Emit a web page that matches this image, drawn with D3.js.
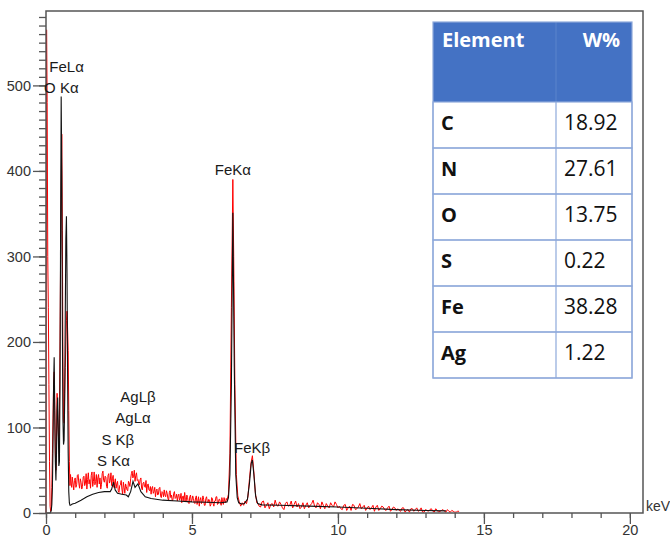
<!DOCTYPE html>
<html><head><meta charset="utf-8">
<script src="https://cdn.jsdelivr.net/npm/d3@7"></script>
<style>
html,body{margin:0;padding:0;background:#fff;}
svg{display:block;}
</style></head><body>
<svg id="chart" width="670" height="538"></svg>
<script>
// ---------------- DATA ----------------
// Red (measured) spectrum, 0 - 0.90 keV, 0.02 keV step
const redLowStart = 0, redLowStep = 0.02;
const redLowCounts = [0,565,480,300,240,150,60,8,2,5,30,70,110,150,165,120,70,50,90,140,115,95,80,110,200,300,380,443,330,180,110,105,140,170,200,225,236,215,190,120,60,32,45,35,30,42];
// Red spectrum, 0.95 - 6.20 keV, 0.025 keV step
const redMidStart = 0.95, redMidStep = 0.025;
const redMidCounts = [27,38,41,30,33,44,45,35,29,40,36,28,31,42,
  43,32,35,46,28,39,47,34,39,29,44,48,31,37,48,33,37,45,30,41,45,34,41,28,33,46,49,38,36,43,42,31,29,44,46,35,38,47,32,40,
  44,30,35,40,29,34,37,26,24,32,33,38,28,22,36,30,23,34,31,27,26,37,35,31,
  40,46,49,41,43,50,37,44,47,38,39,35,
  33,39,41,29,27,35,36,31,30,38,24,33,34,27,26,31,22,29,
  31,23,25,30,19,26,28,21,22,29,30,20,18,25,24,19,
  27,21,19,26,23,17,15,24,26,18,21,14,16,23,25,17,18,22,14,20,
  22,15,17,23,12,19,20,14,24,16,13,21,18,12,11,19,21,13,15,20,
  17,12,11,18,20,10,14,19,8,15,18,11,13,20,16,9,9,17,19,13,12,16,15,8,10,18,17,11,8,14,14,19,19,10,11,16,16,12,9,18,13,10,18,14,12,17,15];
// Red spectrum around Fe K lines [keV, counts]
const redFePairs = [[6.25,22],[6.30,70],[6.35,240],[6.40,390],[6.43,300],[6.47,150],[6.52,45],[6.57,20],[6.62,13],[6.67,8],[6.72,12],[6.77,9],[6.82,14],[6.87,11],[6.92,20],[6.97,40],[7.02,58],[7.07,67],[7.12,48],[7.17,24],[7.22,12]];
// Red spectrum tail, 7.25 - 14.15 keV, 0.05 keV step
const redTailStart = 7.25, redTailStep = 0.05;
const redTailCounts = [12,8,7,13,14,6,9,12,5,10,11,7,15,9,8,13,10,6,4,11,13,8,9,14,6,10,14,7,11,5,7,12,5,9,12,6,9,11,15,8,6,12,10,5,13,9,5,11,8,6,12,9,7,13,10,6,
  8,5,4,9,10,3,6,8,3,10,9,4,5,7,11,5,7,9,3,6,8,4,6,9,2,7,9,3,5,8,7,4,3,6,8,2,4,7,6,3,
  5,3,2,6,6,1,3,4,1,5,5,2,4,6,2,3,6,1,1,4,3,2,4,5,2,1,5,3,1,2,3,4,2,1,4,2,1,3,2,1,1,2,2];

// Black (fitted) spectrum, 0 - 0.90 keV, 0.02 keV step
const blackLowStart = 0, blackLowStep = 0.02;
const blackLowCounts = [0,0,0,0,0,0,0,0,1,3,10,30,80,150,182,120,60,38,70,120,135,100,55,60,150,330,487,400,220,110,80,85,130,230,320,347,280,160,70,25,12,9,9,9.5,10,10.5];
// Black spectrum above 0.9 keV [keV, counts]
const blackHighPairs = [[1.0,11.5],[1.2,15],[1.4,19],[1.6,22],[1.8,24],[2.0,25],[2.2,25],[2.25,28],[2.31,36],[2.37,27],[2.45,23],[2.6,22],[2.75,21],[2.82,19],[2.9,25],[2.98,37],[3.05,30],[3.15,34],[3.25,25],[3.4,19],[3.6,17],[4.0,15],[4.5,14],[5.0,13],[5.5,12.5],[6.0,12],[6.2,13],[6.25,18],[6.3,45],[6.35,150],[6.4,351],[6.45,170],[6.5,45],[6.55,18],[6.6,12],[6.7,10.5],[6.8,11],[6.9,16],[6.97,35],[7.03,58],[7.07,62],[7.12,45],[7.18,20],[7.25,11],[7.4,9.5],[8,9],[9,8],[10,7],[11,5.5],[12,4],[13,3],[13.7,2.5]];

// Peak annotations: label, line energy (keV), label baseline (counts)
const peakLabels = ["FeL\u03B1","O K\u03B1","FeK\u03B1","FeK\u03B2","AgL\u03B2","AgL\u03B1","S K\u03B2","S K\u03B1"];
const peakEnergies = [0.705,0.525,6.40,7.06,3.15,2.98,2.46,2.31];
const peakLabelCounts = [516,491,395,70,130,105,79,55];

// Axis ticks
const xTicks = [0,5,10,15,20];
const yTicks = [0,100,200,300,400,500];
const xLabel = "keV";

// Composition table
const tableHeader = ["Element","W%"];
const elements = ["C","N","O","S","Fe","Ag"];
const weights = ["18.92","27.61","13.75","0.22","38.28","1.22"];

// ---------------- BUILD SERIES ----------------
const fromGrid = (start, step, arr) => arr.map((v,i)=>[+(start+i*step).toFixed(3), v]);
const redSeries = [].concat(
  fromGrid(redLowStart, redLowStep, redLowCounts),
  fromGrid(redMidStart, redMidStep, redMidCounts),
  redFePairs,
  fromGrid(redTailStart, redTailStep, redTailCounts)
);
const blackSeries = [].concat(
  fromGrid(blackLowStart, blackLowStep, blackLowCounts),
  blackHighPairs
);

// ---------------- DRAW ----------------
const svg = d3.select("#chart");
const FONT = "'Liberation Sans', Arial, sans-serif";
const x = d3.scaleLinear().domain([0,20.45]).range([46,643]);
const y = d3.scaleLinear().domain([0,587]).range([513,11]);

const line = d3.line().x(d=>x(d[0])).y(d=>y(d[1]));

svg.append("path").datum(redSeries).attr("d", line)
  .attr("fill","none").attr("stroke","#ff0000").attr("stroke-width",1);
svg.append("path").datum(blackSeries).attr("d", line)
  .attr("fill","none").attr("stroke","#111").attr("stroke-width",1.1);

// frame
svg.append("rect").attr("x",x(0)).attr("y",y(587)).attr("width",x(20.45)-x(0)).attr("height",y(0)-y(587))
  .attr("fill","none").attr("stroke","#555").attr("stroke-width",1.5);

// axes
function styleAxis(g){
  g.select(".domain").remove();
  g.selectAll(".tick line").attr("stroke","#555").attr("stroke-width",1.3);
  g.selectAll(".tick text").attr("fill","#333").style("font-family",FONT).style("font-size","14.5px");
}
svg.append("g").attr("transform",`translate(${x(0)},0)`)
  .call(d3.axisLeft(y).tickValues(d3.range(0,590,10)).tickSize(7).tickFormat(""))
  .call(styleAxis);
svg.append("g").attr("transform",`translate(${x(0)},0)`)
  .call(d3.axisLeft(y).tickValues(yTicks).tickSize(13).tickPadding(2))
  .call(styleAxis);
svg.append("g").attr("transform",`translate(0,${y(0)})`)
  .call(d3.axisBottom(x).tickValues(d3.range(0,21,1)).tickSize(5).tickFormat(""))
  .call(styleAxis);
svg.append("g").attr("transform",`translate(0,${y(0)})`)
  .call(d3.axisBottom(x).tickValues(xTicks).tickSize(11).tickPadding(1))
  .call(styleAxis);

svg.append("text").attr("x",646).attr("y",511).text(xLabel)
  .attr("fill","#333").style("font-family",FONT).style("font-size","14px");

// peak labels
svg.append("g").selectAll("text").data(peakLabels).join("text")
  .attr("x",(d,i)=>x(peakEnergies[i]))
  .attr("y",(d,i)=>y(peakLabelCounts[i]))
  .attr("text-anchor","middle")
  .attr("fill","#1a1a1a").style("font-family",FONT).style("font-size","15px")
  .text(d=>d);

// table
const TF = "'Open Sans', 'Noto Sans', sans-serif";
const tL = 433, tR = 632, tDiv = 556, tTop = 22, hdrH = 80, rowH = 46;
const tbl = svg.append("g");
tbl.append("rect").attr("x",tL).attr("y",tTop).attr("width",tR-tL).attr("height",hdrH+rowH*elements.length)
  .attr("fill","#fff");
tbl.append("rect").attr("x",tL).attr("y",tTop).attr("width",tR-tL).attr("height",hdrH).attr("fill","#4472C4");
tbl.append("line").attr("x1",tDiv).attr("x2",tDiv).attr("y1",tTop).attr("y2",tTop+hdrH)
  .attr("stroke","#5a84cc").attr("stroke-width",1);
tbl.append("text").attr("x",tL+9).attr("y",tTop+25).text(tableHeader[0])
  .attr("fill","#fff").style("font-family",TF).style("font-weight","bold").style("font-size","20px");
tbl.append("text").attr("x",tR-12).attr("y",tTop+25).attr("text-anchor","end").text(tableHeader[1])
  .attr("fill","#fff").style("font-family",TF).style("font-weight","bold").style("font-size","20px");
const rows = tbl.selectAll("g.row").data(elements).join("g").attr("class","row")
  .attr("transform",(d,i)=>`translate(0,${tTop+hdrH+i*rowH})`);
rows.append("rect").attr("x",tL).attr("y",0).attr("width",tR-tL).attr("height",rowH)
  .attr("fill","none").attr("stroke","#8EA9DB").attr("stroke-width",1.2);
rows.append("line").attr("x1",tDiv).attr("x2",tDiv).attr("y1",0).attr("y2",rowH)
  .attr("stroke","#8EA9DB").attr("stroke-width",1.2);
rows.append("text").attr("x",tL+8).attr("y",28).text(d=>d)
  .attr("fill","#111").style("font-family",TF).style("font-weight","bold").style("font-size","20px");
rows.append("text").attr("x",tDiv+8).attr("y",28).text((d,i)=>weights[i])
  .attr("fill","#111").style("font-family",TF).style("font-size","21px");
tbl.append("rect").attr("x",tL).attr("y",tTop).attr("width",tR-tL).attr("height",hdrH+rowH*elements.length)
  .attr("fill","none").attr("stroke","#8EA9DB").attr("stroke-width",1.2);
</script></body></html>
